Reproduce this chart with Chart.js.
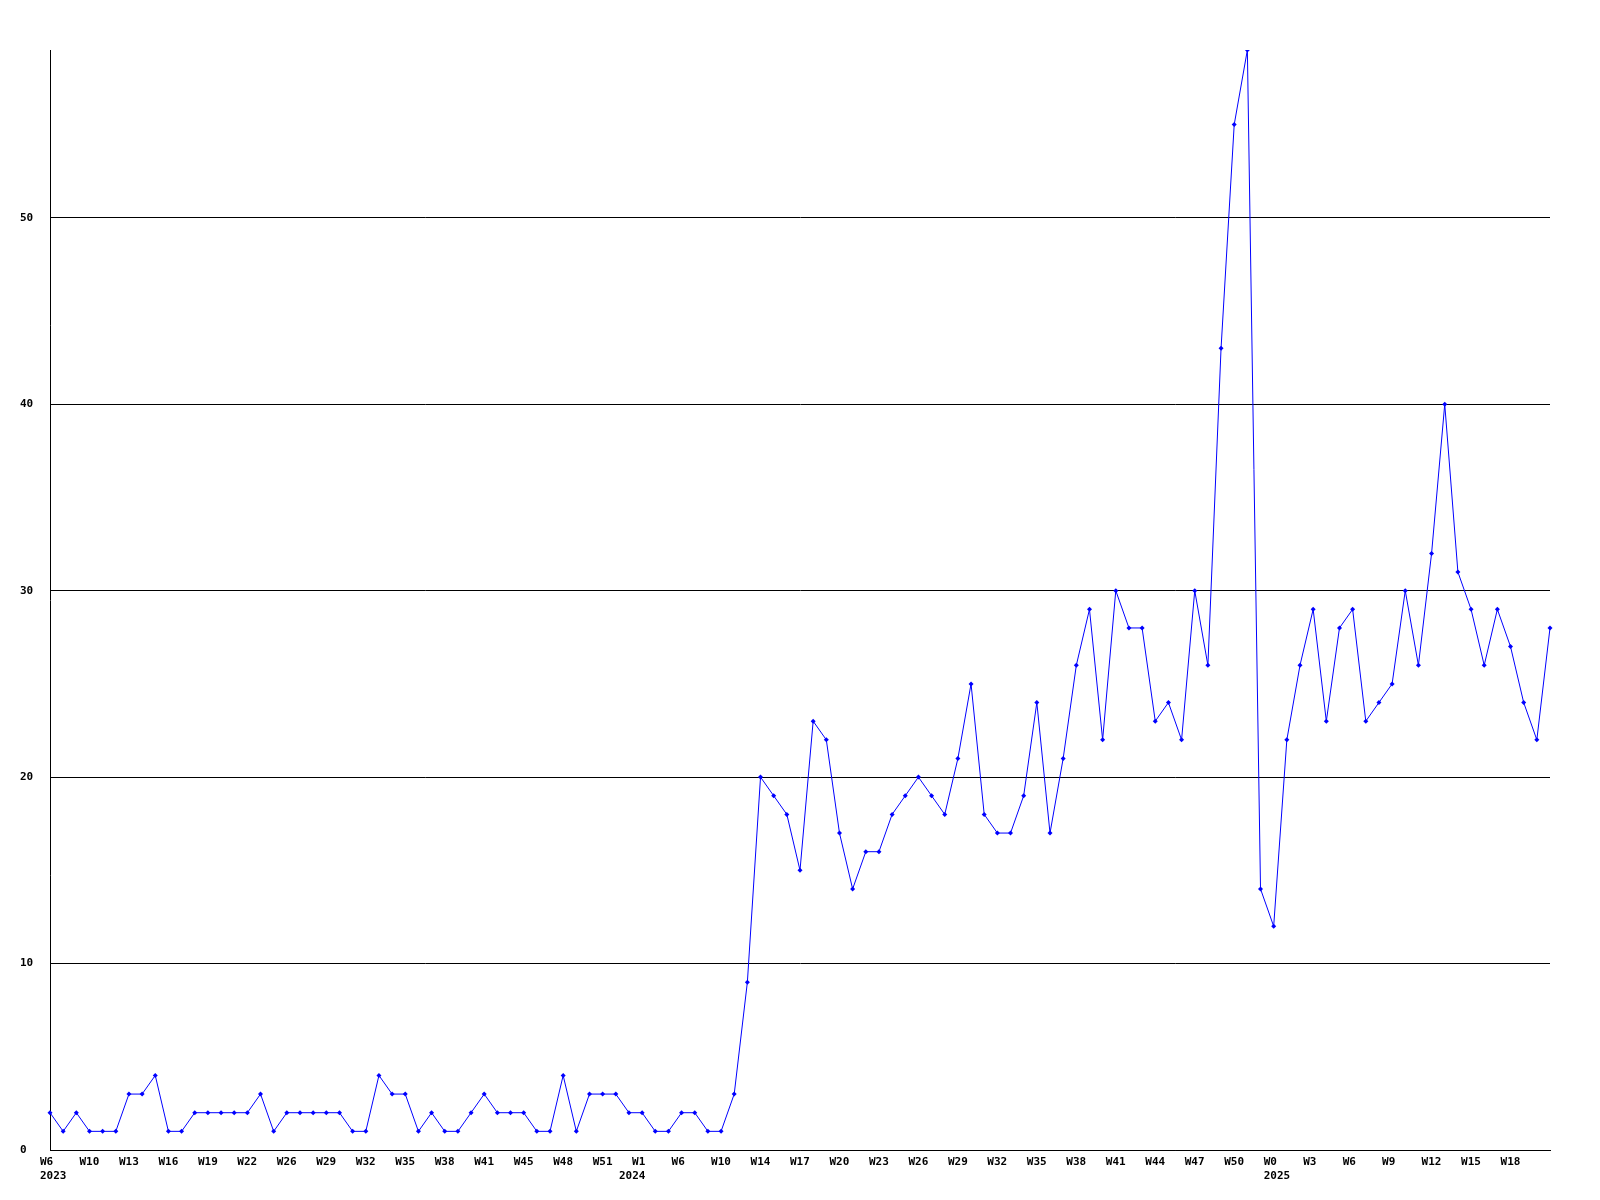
<!DOCTYPE html>
<html lang="en">
<head>
  <meta charset="UTF-8">
  <title>Weekly count</title>
  <script src="https://cdn.jsdelivr.net/npm/chart.js"></script>
  <style>
    body { margin: 0; background: #fff; }
    canvas { display: block; }
  </style>
</head>
<body>
  <canvas id="weekChart" width="1600" height="1200"></canvas>

  <script>
    // one value per week, first point is W6 2023
    const values = [
      2, 1, 2, 1, 1, 1, 3, 3, 4, 1, 1, 2, 2, 2, 2, 2, 3, 1, 2, 2, 2, 2, 2, 1, 1, 4, 3,
      3, 1, 2, 1, 1, 2, 3, 2, 2, 2, 1, 1, 4, 1, 3, 3, 3, 2, 2, 1, 1, 2, 2, 1, 1, 3, 9,
      20, 19, 18, 15, 23, 22, 17, 14, 16, 16, 18, 19, 20, 19, 18, 21, 25, 18, 17, 17, 19, 24, 17, 21,
      26, 29, 22, 30, 28, 28, 23, 24, 22, 30, 26, 43, 55, 59,
      14, 12, 22, 26, 29, 23, 28, 29, 23, 24, 25, 30, 26, 32, 40,
      31, 29, 26, 29, 27, 24, 22, 28
    ];

    // labels shown on every third week
    const weekTicks = [
      'W6', 'W10', 'W13', 'W16', 'W19', 'W22', 'W26', 'W29', 'W32', 'W35', 'W38', 'W41', 'W45',
      'W48', 'W51', 'W1', 'W6', 'W10', 'W14', 'W17', 'W20', 'W23', 'W26', 'W29', 'W32', 'W35',
      'W38', 'W41', 'W44', 'W47', 'W50', 'W0', 'W3', 'W6', 'W9', 'W12', 'W15', 'W18'
    ];

    // first week of each year
    const years = ['2023', '2024', '2025'];
    const yearStart = [0, 44, 93];

    const labels = values.map((v, i) => [
      i % 3 === 0 ? (weekTicks[i / 3] || '') : '',
      yearStart.includes(i) ? years[yearStart.indexOf(i)] : ''
    ]);

    const tickFont = { family: 'DejaVu Sans Mono', size: 11, weight: 'bold', lineHeight: 1.3 };

    new Chart(document.getElementById('weekChart').getContext('2d'), {
      type: 'line',
      data: {
        labels: labels,
        datasets: [{
          data: values,
          borderColor: '#0000ff',
          backgroundColor: '#0000ff',
          borderWidth: 1,
          pointStyle: 'rectRot',
          pointRadius: 2.5,
          pointBorderWidth: 0,
          tension: 0,
          fill: false
        }]
      },
      options: {
        responsive: false,
        animation: false,
        layout: { padding: { left: 20, top: 50, right: 50, bottom: 0 } },
        plugins: {
          legend: { display: false },
          tooltip: { enabled: false }
        },
        scales: {
          x: {
            type: 'category',
            offset: false,
            grid: { display: false, drawTicks: false },
            border: { display: true, color: '#000', width: 1 },
            ticks: {
              autoSkip: false,
              maxRotation: 0,
              minRotation: 0,
              align: 'start',
              labelOffset: -10,
              padding: 5,
              color: '#000',
              font: tickFont
            },
            afterFit: (axis) => { axis.height = 50; }
          },
          y: {
            min: 0,
            max: 59,
            grid: { display: true, color: '#000', lineWidth: 1, drawTicks: false },
            border: { display: true, color: '#000', width: 1 },
            ticks: {
              stepSize: 10,
              includeBounds: false,
              crossAlign: 'far',
              padding: 0,
              color: '#000',
              font: tickFont
            },
            afterFit: (axis) => { axis.width = 30; }
          }
        }
      }
    });
  </script>
</body>
</html>
